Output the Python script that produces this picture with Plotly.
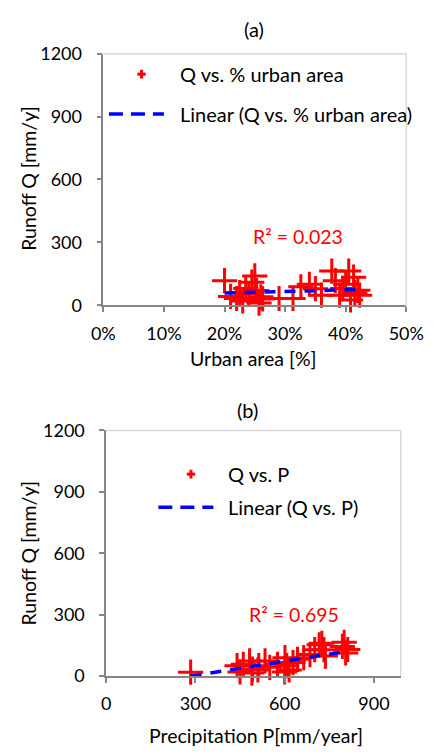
import plotly.graph_objects as go

W, H = 442, 756

# ---- data: panel (a) ----
urban_pct = [20.0, 21.0, 22.0, 22.5, 23.0, 23.5, 24.0, 24.5, 25.0, 25.3, 25.7, 26.0, 26.3,
             29.0, 31.3, 32.6, 34.0, 35.0, 36.0, 37.7, 38.3, 39.0, 39.5, 40.0, 40.5, 40.8,
             41.3, 41.5, 42.0, 42.3]
runoff_a = [117, 42, 32, 60, 20, 80, 55, 110, 140, 70, 10, 40, 30,
            32, 32, 88, 100, 79, 48, 163, 117, 48, 80, 100, 163, 25,
            134, 60, 71, 48]
trend_a_x = [20.0, 42.0]
trend_a_y = [58, 75]

# ---- data: panel (b) ----
precip = [284, 440, 461, 482, 492, 513, 534, 550, 576, 601, 607, 628, 643, 664, 685,
          701, 716, 732, 737, 794, 805, 450, 490, 600, 615, 510, 725, 800, 812]
runoff_b = [19, 51, 58, 74, 34, 51, 74, 43, 58, 90, 51, 66, 82, 90, 105,
            129, 153, 129, 98, 145, 113, 20, 15, 20, 30, 30, 160, 165, 130]
trend_b_x = [284, 805]
trend_b_y = [0, 120]

r2_a = "R² = 0.023"
r2_b = "R² = 0.695"

FONT = "Lato"
RED = "#ff0000"
BLUE = "#0000ff"
AXC = "#868686"
FRAME = "#d9d9d9"


def px(x):
    return x / W


def py(y):
    return 1 - y / H


# plot area pixel boxes (left, top, right, bottom)
A = (98, 43, 423, 302)
B = (101, 431, 417, 684)

fig = go.Figure()

marker = dict(symbol="cross-thin", size=18, color=RED, line=dict(color=RED, width=3))

fig.add_trace(go.Scatter(x=urban_pct, y=runoff_a, mode="markers", marker=marker,
                         xaxis="x", yaxis="y", showlegend=False, cliponaxis=False))
fig.add_trace(go.Scatter(x=trend_a_x, y=trend_a_y, mode="lines",
                         line=dict(color=BLUE, width=3.5, dash="11px,9px"),
                         xaxis="x", yaxis="y", showlegend=False))
fig.add_trace(go.Scatter(x=precip, y=runoff_b, mode="markers", marker=marker,
                         xaxis="x2", yaxis="y2", showlegend=False, cliponaxis=False))
fig.add_trace(go.Scatter(x=trend_b_x, y=trend_b_y, mode="lines",
                         line=dict(color=BLUE, width=3.5, dash="11px,9px"),
                         xaxis="x2", yaxis="y2", showlegend=False))

axis_common = dict(showgrid=False, zeroline=False, showline=True, linecolor=AXC, linewidth=1.5,
                   ticks="outside", ticklen=5, tickcolor=AXC, tickwidth=1.5,
                   tickfont=dict(family=FONT, size=18, color="black"))

fig.update_layout(
    width=W, height=H,
    margin=dict(l=0, r=0, t=0, b=0),
    paper_bgcolor="white", plot_bgcolor="white",
    showlegend=False,
    xaxis=dict(domain=[px(A[0]), px(A[2])], range=[0, 50], dtick=10, ticksuffix="%",
               anchor="y", ticklabelstandoff=6, **axis_common),
    yaxis=dict(domain=[py(A[3]), py(A[1])], range=[0, 1200], dtick=300,
               anchor="x", ticklabelstandoff=11, **axis_common),
    xaxis2=dict(domain=[px(B[0]), px(B[2])], range=[0, 990], dtick=300,
                anchor="y2", ticklabelstandoff=6, **axis_common),
    yaxis2=dict(domain=[py(B[3]), py(B[1])], range=[0, 1200], dtick=300,
                anchor="x2", ticklabelstandoff=11, **axis_common),
)

shapes = []
for (l, t, r, b) in (A, B):
    shapes.append(dict(type="line", xref="paper", yref="paper", x0=px(l), x1=px(r),
                       y0=py(t), y1=py(t), line=dict(color=FRAME, width=1.5)))
    shapes.append(dict(type="line", xref="paper", yref="paper", x0=px(r), x1=px(r),
                       y0=py(t), y1=py(b), line=dict(color=FRAME, width=1.5)))


def legend_plus(cx, cy, s=4.5):
    return [
        dict(type="line", xref="paper", yref="paper", x0=px(cx - s), x1=px(cx + s),
             y0=py(cy), y1=py(cy), line=dict(color=RED, width=3)),
        dict(type="line", xref="paper", yref="paper", x0=px(cx), x1=px(cx),
             y0=py(cy - s), y1=py(cy + s), line=dict(color=RED, width=3)),
    ]


def legend_dash(x0, x1, cy):
    return dict(type="line", xref="paper", yref="paper", x0=px(x0), x1=px(x1),
                y0=py(cy), y1=py(cy), line=dict(color=BLUE, width=3.5, dash="14px,8px"))


shapes += legend_plus(139, 64)
shapes.append(legend_dash(104, 163, 105))
shapes += legend_plus(192, 476)
shapes.append(legend_dash(157, 216, 510))
fig.update_layout(shapes=shapes)

annotations = []


def text(x, y, s, size=18, color="black", xanchor="center", angle=0):
    annotations.append(dict(x=px(x), y=py(y), xref="paper", yref="paper", text=s,
                            showarrow=False, xanchor=xanchor, yanchor="middle",
                            textangle=angle, font=dict(family=FONT, size=size, color=color)))


text(260, 18, "(a)", size=20)
text(253, 410, "(b)", size=20)
text(178, 64, "Q vs. % urban area", size=20, xanchor="left")
text(178, 105, "Linear (Q vs. % urban area)", size=20, xanchor="left")
text(230, 476, "Q vs. P", size=20, xanchor="left")
text(230, 510, "Linear (Q vs. P)", size=20, xanchor="left")
text(307, 231, r2_a, size=19.5, color=RED)
text(303, 621, r2_b, size=19.5, color=RED)
text(18, 172, "Runoff Q [mm/y]", size=19.5, angle=-90)
text(18, 558, "Runoff Q [mm/y]", size=19.5, angle=-90)
text(259, 357, "Urban area [%]", size=19.5)
text(262, 745, "Precipitation P[mm/year]", size=19.5)
fig.update_layout(annotations=annotations)

fig.write_html("out.html")
